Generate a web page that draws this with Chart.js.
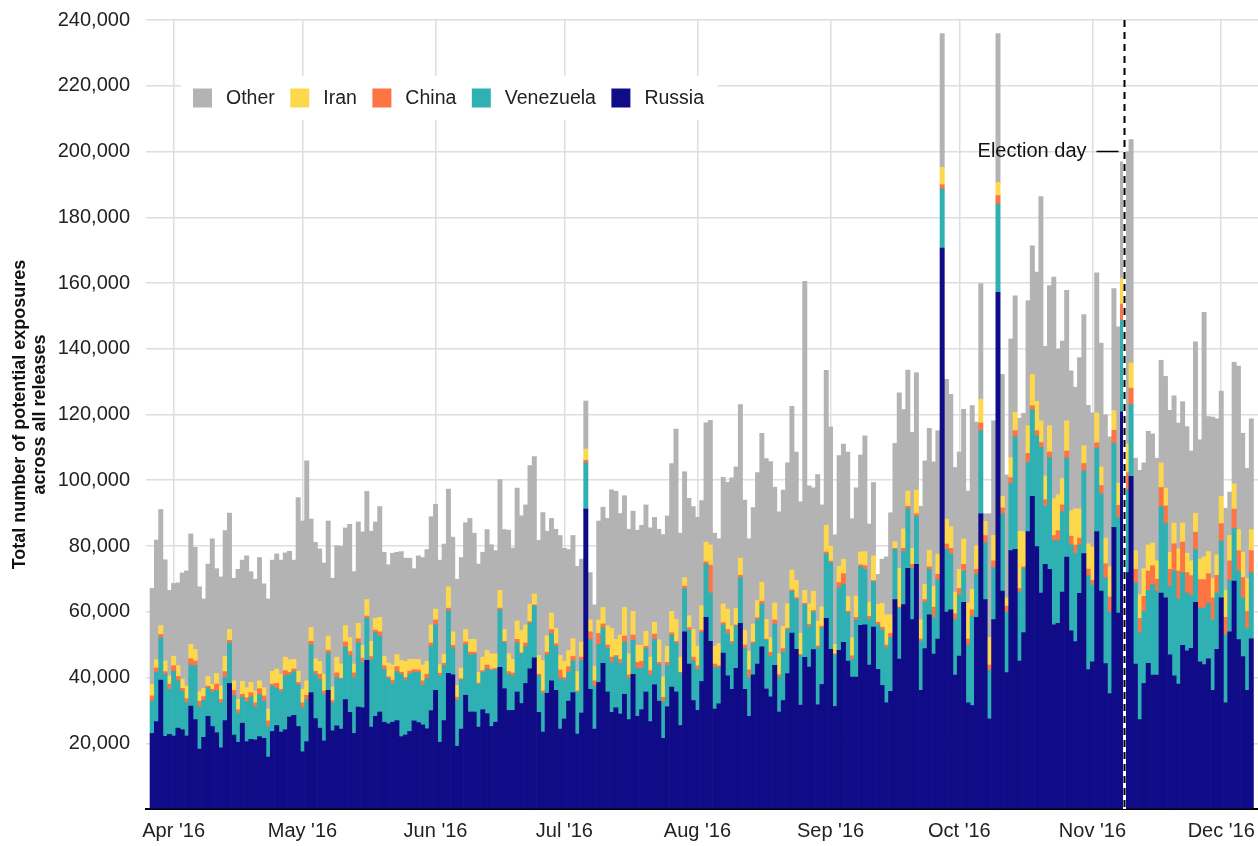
<!DOCTYPE html>
<html>
<head>
<meta charset="utf-8">
<script src="https://cdn.jsdelivr.net/npm/chart.js@4.4.1/dist/chart.umd.min.js"></script>
<style>
html,body{margin:0;padding:0;background:#fff;}
#wrap{width:1258px;height:846px;position:relative;}
</style>
</head>
<body>
<div id="wrap"><canvas id="c"></canvas></div>
<script>
// Daily values, in thousands of potential exposures, one per day from 27 Mar 2016 (index 0) to 8 Dec 2016 (index 256)
const firstDay = '2016-03-27';
const russia = [
23.0,26.6,39.2,22.1,22.7,22.2,24.6,24.1,22.2,31.3,27.2,18.2,21.8,28.2,25.1,23.2,18.6,26.9,38.2,22.5,20.3,26.1,20.5,
21.2,21.0,22.0,21.5,15.8,23.6,25.4,23.4,24.1,28.0,28.5,25.1,17.4,20.5,35.4,27.5,24.6,20.7,36.1,23.8,25.3,24.3,33.3,29.4,
23.0,31.0,30.8,45.2,24.9,28.2,29.5,26.4,25.9,26.4,26.9,22.0,22.5,23.6,26.8,26.3,25.6,24.4,29.9,36.1,20.3,26.9,41.3,
40.8,19.1,24.3,34.6,29.5,29.5,24.9,30.2,29.0,25.1,26.4,43.1,36.6,30.0,30.0,35.6,32.1,38.2,42.6,46.0,29.4,23.4,35.2,39.0,
36.1,24.3,27.4,32.8,35.4,22.8,29.2,91.2,36.4,24.3,38.5,44.3,35.6,29.4,30.8,28.9,34.9,27.2,41.0,28.2,30.2,35.6,26.6,37.8,
32.8,21.5,31.1,37.1,35.6,25.4,53.9,44.1,33.0,30.0,38.8,58.3,51.0,30.4,32.0,47.4,40.5,36.4,42.8,56.5,36.4,28.2,40.8,44.1,
49.3,36.5,34.1,43.7,29.5,33.0,41.2,53.5,48.6,31.6,46.1,43.2,48.5,31.7,37.9,58.0,48.6,31.2,48.3,50.7,45.0,40.1,40.1,55.9,
56.0,43.8,55.3,42.5,37.6,32.3,35.8,63.7,45.6,62.2,73.2,57.6,74.4,36.1,48.8,59.1,47.1,51.7,170.6,59.9,60.6,40.7,46.5,
62.9,32.3,31.5,58.3,89.8,63.7,27.4,57.6,157.2,66.3,41.5,78.6,79.0,45.0,53.7,84.4,95.1,79.8,65.7,74.4,72.9,56.0,56.5,66.0,
76.6,54.2,50.9,65.6,77.7,42.4,44.8,84.4,66.3,44.2,35.1,85.7,59.6,120.8,
71.9,101.2,44.1,27.2,38.2,44.3,40.7,40.7,65.7,64.2,
46.9,40.5,38.0,49.8,48.1,48.9,62.9,44.8,43.9,45.7,36.1,48.6,64.2,32.3,53.9,69.3,51.5,46.4,36.1,51.8
];
const venezuela = [
9.8,15.0,12.9,18.9,13.7,19.7,14.4,11.6,10.1,12.5,16.4,12.9,11.3,8.7,10.5,12.9,13.7,13.1,12.3,12.1,8.9,7.9,12.1,
12.9,10.1,12.9,11.3,9.3,13.8,11.3,12.2,16.4,12.9,13.3,12.7,13.4,12.8,14.6,13.5,14.9,14.2,11.3,8.5,14.7,15.2,16.0,17.3,
17.0,19.6,13.8,12.8,20.5,25.4,23.1,16.0,13.8,11.6,14.9,19.0,16.7,17.4,14.8,15.3,12.1,15.4,19.6,19.9,20.2,16.7,19.1,
8.2,14.0,15.0,15.4,17.4,17.5,13.1,11.4,13.6,17.0,16.0,17.5,14.0,11.0,10.5,15.0,15.1,11.1,13.9,15.8,11.1,11.8,11.7,14.4,
13.4,15.5,11.8,8.8,9.6,12.8,16.0,14.1,15.1,13.1,11.5,10.9,13.3,15.2,15.4,15.4,15.9,12.6,10.3,14.6,12.6,13.2,14.1,13.8,
11.1,11.1,12.5,15.8,14.9,15.9,13.1,10.3,12.0,12.4,14.9,16.2,14.7,12.7,11.1,8.6,12.9,13.9,12.9,13.9,12.5,11.8,9.5,13.4,
13.1,14.9,12.3,12.5,10.6,14.7,13.3,12.7,15.2,15.1,16.0,12.1,11.4,17.3,17.2,19.6,26.3,15.7,19.0,17.7,14.7,5.4,17.4,17.9,
16.9,13.8,13.9,13.5,16.9,16.8,16.4,15.3,15.5,16.1,18.1,15.6,14.6,14.9,14.1,13.8,11.2,18.1,18.0,19.1,16.9,16.9,18.7,
9.5,17.6,27.1,13.1,25.3,17.3,14.8,15.8,26.8,23.5,18.4,20.4,34.2,21.0,19.5,21.0,26.4,33.7,44.3,17.7,34.0,25.6,25.1,24.5,
30.1,26.1,26.8,14.7,25.2,28.6,23.3,25.4,29.5,26.1,24.8,25.5,29.1,27.9,
25.2,21.8,24.7,26.4,21.9,22.2,27.6,25.5,26.3,22.6,
20.9,31.9,25.9,22.1,17.6,16.1,16.0,16.3,17.2,16.9,21.4,17.1,17.3,20.8,15.7,16.0,20.9,17.8,18.8,20.1
];
const china = [
1.6,1.3,1.0,0.8,1.6,1.7,1.3,1.0,1.3,1.9,1.4,1.7,1.1,0.5,0.8,1.9,1.0,1.8,0.8,1.5,1.0,0.9,1.2,
1.3,1.2,1.7,1.6,1.7,0.6,1.5,0.8,1.6,0.7,0.8,0.7,1.5,1.3,1.0,0.9,1.5,1.0,0.9,0.7,1.4,0.3,1.5,1.2,
1.4,1.2,1.3,0.7,1.0,0.8,1.3,1.2,0.5,1.2,1.5,0.6,0.8,0.9,0.8,0.7,1.3,1.2,1.0,1.5,0.8,0.7,0.7,
0.8,0.9,0.3,0.8,0.8,0.7,0.3,0.5,1.2,0.5,0.4,0.5,0.4,0.8,0.9,1.0,0.3,1.2,0.5,0.3,0.5,0.7,0.8,1.2,
0.8,2.5,0.8,1.7,1.4,0.3,1.0,0.8,2.4,1.6,3.4,1.1,1.0,1.6,0.5,1.2,1.8,1.0,1.6,1.8,2.1,0.7,1.4,1.6,
0.7,1.4,1.0,0.7,0.5,0.3,0.8,0.8,1.2,1.2,0.7,0.7,8.5,1.0,0.5,0.7,1.2,0.7,0.3,0.7,1.0,2.3,0.5,0.7,
0.8,0.3,1.3,1.3,0.8,1.1,0.5,0.5,0.5,0.3,0.5,0.9,0.5,0.6,0.5,0.6,0.5,0.3,1.6,3.2,0.5,1.1,0.8,0.5,
1.1,1.0,0.3,0.8,0.8,0.8,1.2,0.3,0.3,1.0,0.8,1.2,0.8,0.7,0.8,0.8,3.1,1.6,1.3,1.6,1.8,1.8,1.9,
2.0,1.8,2.0,1.5,2.3,2.2,1.6,2.1,2.6,1.8,1.8,1.8,1.9,1.1,0.5,2.8,1.2,1.6,1.5,2.0,1.7,1.6,3.1,2.0,
2.2,2.7,2.6,2.1,2.2,2.0,1.5,1.6,2.6,4.3,4.6,4.0,3.7,4.9,
5.2,5.0,4.1,4.4,4.6,5.9,5.7,3.7,5.8,5.4,
5.1,8.3,8.5,9.3,6.2,6.0,5.3,8.7,8.7,9.0,6.7,5.4,5.3,5.2,5.9,5.9,6.2,6.2,5.2,6.7
];
const iran = [
3.5,2.5,2.7,3.2,2.5,2.9,3.3,2.8,3.8,4.4,3.5,2.9,2.5,2.9,1.5,3.2,4.1,4.6,3.3,2.9,3.1,3.9,3.1,
3.1,3.6,2.4,2.5,3.6,3.9,4.4,4.6,4.1,3.8,2.9,3.4,4.1,4.4,4.2,3.8,3.9,5.1,4.3,4.1,4.8,4.3,5.0,4.2,
2.7,4.7,3.9,5.0,4.6,3.6,4.4,2.9,4.2,4.6,3.7,3.6,4.9,3.6,3.1,3.2,4.8,3.9,5.5,3.3,2.6,2.7,6.5,
4.1,3.6,3.3,3.8,3.9,3.9,3.3,4.1,4.4,4.6,4.4,5.4,3.6,5.4,4.1,5.6,6.8,5.5,5.3,3.3,5.7,9.3,5.0,5.0,
4.6,4.4,4.9,4.9,5.4,5.9,4.6,3.4,3.6,4.4,4.1,5.0,5.8,8.7,4.9,7.4,8.7,6.4,7.2,5.2,4.9,4.6,4.1,3.6,
6.9,6.2,4.9,6.5,6.7,4.6,2.6,3.6,8.4,5.9,7.4,6.0,6.1,5.4,6.7,5.7,6.2,4.7,5.1,5.2,4.5,5.7,5.5,5.2,
5.7,6.0,4.4,5.2,6.3,6.7,7.4,6.0,5.2,6.5,3.9,6.2,5.8,7.6,5.9,8.1,4.6,2.9,4.9,4.4,4.4,5.5,6.5,3.9,
4.3,4.3,7.5,5.4,7.3,9.2,5.7,2.0,11.8,5.9,4.6,4.9,7.2,5.9,4.6,5.0,6.4,6.1,5.3,7.6,6.6,6.6,5.8,
7.7,10.9,6.2,7.2,7.3,4.3,8.4,7.7,4.0,3.5,2.5,6.1,5.6,17.3,10.7,8.4,9.5,8.9,6.6,7.2,8.0,11.2,10.9,8.0,
9.2,7.7,11.0,8.9,5.4,7.7,10.1,9.1,5.7,7.8,9.2,6.0,6.7,7.8,
8.7,7.7,5.7,7.2,8.4,7.9,6.9,5.6,7.5,5.4,
5.2,6.3,6.7,5.8,5.9,4.5,5.7,6.2,6.9,6.7,5.9,6.2,8.3,8.3,7.7,7.7,6.4,7.7,10.0,6.4
];
const other = [
29.2,36.4,35.3,30.8,26.0,22.1,25.2,32.3,35.0,33.6,31.1,31.9,27.2,34.2,44.3,31.9,33.2,38.3,35.4,31.2,39.6,36.9,40.1,
33.7,34.0,37.5,31.6,33.5,33.8,35.0,34.7,31.7,33.0,30.2,52.8,51.2,66.9,33.0,35.4,34.2,33.8,35.0,33.1,33.9,35.8,29.7,34.5,
28.1,30.8,34.5,32.9,33.5,29.3,33.7,31.6,29.9,34.0,31.1,33.1,31.4,30.8,27.6,31.5,32.7,34.0,32.9,31.9,31.8,33.6,29.7,
28.8,32.3,33.6,32.5,36.8,32.3,32.9,31.9,36.8,33.2,31.4,33.7,30.4,37.6,33.9,40.4,34.9,36.5,42.2,41.8,35.0,45.0,31.8,28.8,
30.2,36.5,34.4,30.7,31.4,32.0,25.2,14.6,14.4,18.7,30.1,30.5,32.7,42.2,45.0,37.0,34.0,37.9,30.5,35.0,36.5,38.4,39.3,31.9,
33.6,43.3,39.7,45.0,57.9,37.7,32.2,35.7,37.4,39.2,32.0,36.3,37.9,34.4,31.9,38.5,38.6,45.0,43.0,46.7,39.6,34.2,35.4,38.9,
45.4,48.9,53.6,35.2,43.2,41.5,42.9,49.8,39.1,39.9,94.0,35.9,31.5,44.5,31.0,47.1,36.2,33.3,33.7,35.0,44.0,36.2,32.9,29.5,
35.2,23.8,22.3,9.2,13.4,17.6,31.0,29.9,53.4,36.3,36.8,35.3,35.7,34.5,37.6,37.1,37.8,37.6,40.7,42.5,40.2,37.9,35.7,
39.5,34.1,55.9,37.6,35.1,2.3,37.6,34.9,45.3,37.1,37.4,36.1,35.4,34.5,36.0,38.0,39.1,39.3,68.2,39.4,42.6,67.4,44.3,41.8,
39.7,42.6,37.0,46.0,39.9,42.1,40.8,42.6,37.6,37.5,39.5,37.1,47.6,35.5,
89.0,67.9,28.1,37.8,32.2,34.6,33.2,31.2,31.2,34.0,
43.2,38.7,38.3,36.9,38.5,33.4,52.2,36.3,74.4,41.1,49.1,41.4,32.0,24.9,13.2,37.0,49.7,36.2,33.5,33.7
];

const seriesNames  = ['Russia', 'Venezuela', 'China', 'Iran', 'Other'];
const seriesColors = ['#100c88', '#2fb0b3', '#fd7544', '#fed84c', '#b3b3b3'];
const legendOrder  = ['Other', 'Iran', 'China', 'Venezuela', 'Russia'];

const monthTickIdx    = [5, 35, 66, 96, 127, 158, 188, 219, 249];
const monthTickLabels = ["Apr '16", "May '16", "Jun '16", "Jul '16", "Aug '16", "Sep '16", "Oct '16", "Nov '16", "Dec '16"];

const electionIdx   = 226.3;   // 8 Nov 2016
const electionLabel = 'Election day';
const electionLabelValue = 200; // thousands, height of the label

const FONT = '"Liberation Sans", Arial, Helvetica, sans-serif';
Chart.defaults.font.family = FONT;

const seriesData = [russia, venezuela, china, iran, other];
const datasets = seriesNames.map((name, k) => ({
  label: name,
  data: seriesData[k].map((v, i) => ({ x: i, y: v })),
  backgroundColor: seriesColors[k],
  borderWidth: 0,
  barPercentage: 1.0,
  categoryPercentage: 1.0,
  stack: 'all'
}));

const legendPlugin = {
  id: 'insideLegend',
  afterDatasetsDraw(chart) {
    const ctx = chart.ctx;
    ctx.save();
    ctx.font = '19.5px ' + FONT;
    const box = 19, gapBox = 14, gapItem = 15.5;
    let x = 193;
    const cy = 98;
    let total = 0;
    legendOrder.forEach(n => { total += box + gapBox + ctx.measureText(n).width + gapItem; });
    ctx.fillStyle = '#ffffff';
    ctx.fillRect(x - 12, cy - 22, total + 10, 44);
    legendOrder.forEach(n => {
      const k = seriesNames.indexOf(n);
      ctx.fillStyle = seriesColors[k];
      ctx.fillRect(x, cy - box / 2, box, box);
      x += box + gapBox;
      ctx.fillStyle = '#222';
      ctx.textAlign = 'left';
      ctx.textBaseline = 'middle';
      ctx.fillText(n, x, cy + 1);
      x += ctx.measureText(n).width + gapItem;
    });
    ctx.restore();
  }
};

const electionPlugin = {
  id: 'electionLine',
  afterDatasetsDraw(chart) {
    const ctx = chart.ctx;
    const xs = chart.scales.x, ys = chart.scales.y;
    const area = chart.chartArea;
    const x = Math.round(xs.getPixelForValue(electionIdx)) + 0.5;
    ctx.save();
    ctx.strokeStyle = '#ffffff';
    ctx.lineWidth = 3;
    ctx.beginPath(); ctx.moveTo(x, area.top); ctx.lineTo(x, area.bottom); ctx.stroke();
    ctx.strokeStyle = '#000000';
    ctx.lineWidth = 2;
    ctx.setLineDash([7, 5]);
    ctx.beginPath(); ctx.moveTo(x, area.top); ctx.lineTo(x, area.bottom); ctx.stroke();
    ctx.setLineDash([]);
    const y = Math.round(ys.getPixelForValue(electionLabelValue)) + 0.5;
    ctx.lineWidth = 1.5;
    ctx.beginPath(); ctx.moveTo(x - 28, y); ctx.lineTo(x - 6, y); ctx.stroke();
    ctx.font = '20px ' + FONT;
    ctx.fillStyle = '#111';
    ctx.textAlign = 'right';
    ctx.textBaseline = 'middle';
    ctx.fillText(electionLabel, x - 38, y);
    ctx.restore();
  }
};

new Chart(document.getElementById('c'), {
  type: 'bar',
  data: { datasets },
  plugins: [legendPlugin, electionPlugin],
  options: {
    responsive: true,
    maintainAspectRatio: false,
    devicePixelRatio: 1,
    animation: false,
    layout: { padding: { top: 20, right: 0, left: 0, bottom: 0 } },
    plugins: { legend: { display: false }, tooltip: { enabled: false } },
    scales: {
      x: {
        type: 'linear',
        stacked: true,
        offset: false,
        min: -1.44,
        max: 257.56,
        afterBuildTicks: (scale) => { scale.ticks = monthTickIdx.map(v => ({ value: v })); },
        afterFit: (scale) => { scale.height = 37; scale.paddingLeft = 0; scale.paddingRight = 0; },
        ticks: {
          autoSkip: false, maxRotation: 0, minRotation: 0, padding: 10,
          color: '#222', font: { size: 20 },
          callback: (v, i) => monthTickLabels[i]
        },
        grid: { offset: false, color: '#dedede', lineWidth: 1.5, drawTicks: false },
        border: { display: true, color: '#000', width: 2 }
      },
      y: {
        stacked: true,
        min: 0,
        max: 240,
        afterFit: (scale) => { scale.width = 146; scale.paddingTop = 0; scale.paddingBottom = 0; },
        ticks: {
          stepSize: 20, padding: 16, color: '#222', font: { size: 20 },
          callback: (v) => v === 0 ? '' : (v * 1000).toLocaleString('en-US')
        },
        grid: { color: '#dedede', lineWidth: 1.5, drawTicks: false },
        border: { display: false },
        title: {
          display: true,
          text: ['Total number of potential exposures', 'across all releases'],
          color: '#111',
          font: { size: 18, weight: 'bold', lineHeight: 1.12 },
          padding: { top: 10, bottom: 0 }
        }
      }
    }
  }
});
</script>
</body>
</html>
